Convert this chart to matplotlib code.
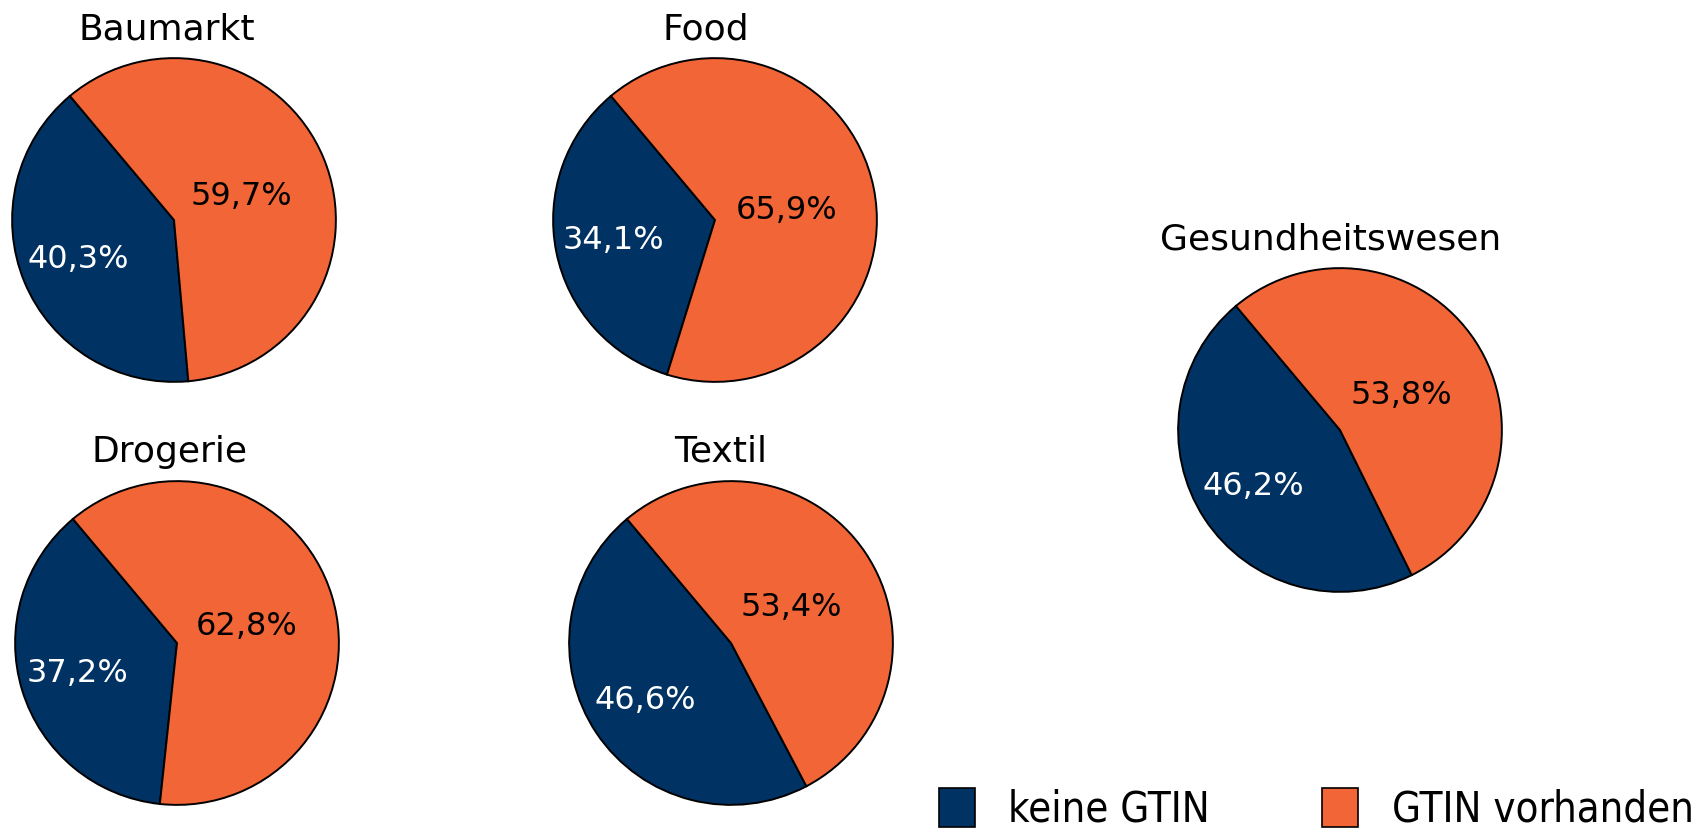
import matplotlib
matplotlib.use("Agg")
import matplotlib.pyplot as plt
from matplotlib.patches import Patch

# data
categories = ['Baumarkt', 'Food', 'Drogerie', 'Textil', 'Gesundheitswesen']
keine_gtin = [40.3, 34.1, 37.2, 46.6, 46.2]
gtin_vorhanden = [59.7, 65.9, 62.8, 53.4, 53.8]
series_labels = ['keine GTIN', 'GTIN vorhanden']

colors = ['#003263', '#F26536']

W, H = 1708, 834
fig = plt.figure(figsize=(W / 100, H / 100), dpi=100)

# pie centres and title centres in pixels (top-left origin)
centres = [(174, 220), (715, 220), (177, 643), (731, 643), (1340, 430)]
title_pos = [(167, 29), (706, 29), (170, 452), (721, 452), (1331, 240)]
r = 163.5

for i, name in enumerate(categories):
    cx, cy = centres[i]
    ax = fig.add_axes([(cx - r) / W, (H - cy - r) / H, 2 * r / W, 2 * r / H])
    wedges, texts, autotexts = ax.pie(
        [keine_gtin[i], gtin_vorhanden[i]], colors=colors, startangle=130,
        counterclock=True, autopct=lambda p: f'{p:.1f}%'.replace('.', ','),
        pctdistance=0.64, radius=1,
        wedgeprops=dict(edgecolor='black', linewidth=1.4),
        textprops=dict(fontsize=23, family='DejaVu Sans'))
    autotexts[0].set_color('white')
    autotexts[1].set_color('black')
    # orange label sits closer to the centre in the reference
    x, y = autotexts[1].get_position()
    autotexts[1].set_position((x * 0.45 / 0.64, y * 0.45 / 0.64 - 0.03))
    ax.set_xlim(-1.01, 1.01)
    ax.set_ylim(-1.01, 1.01)
    ax.set_aspect('equal')
    ax.axis('off')
    tx, ty = title_pos[i]
    fig.text(tx / W, 1 - ty / H, name, fontsize=26, ha='center', va='center',
             family='DejaVu Sans')

handles = [Patch(facecolor=colors[0], edgecolor='black', linewidth=1.2),
           Patch(facecolor=colors[1], edgecolor='black', linewidth=1.2)]
fig.legend(handles, series_labels, loc='upper left',
           bbox_to_anchor=(939 / W, 1 - 788 / H), ncol=2, frameon=False,
           prop=dict(family='DejaVu Sans', stretch='condensed', size=30),
           handlelength=0.86, handleheight=1.05, handletextpad=0.8,
           columnspacing=2.7, borderpad=0, borderaxespad=0)

fig.savefig('out.png', dpi=100)
